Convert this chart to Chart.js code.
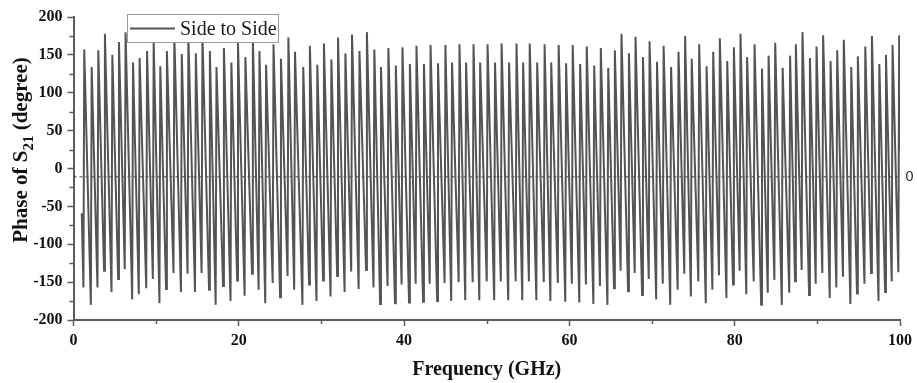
<!DOCTYPE html>
<html>
<head>
<meta charset="utf-8">
<script src="https://cdn.jsdelivr.net/npm/chart.js@4.4.1/dist/chart.umd.min.js"></script>
<style>
  html, body { margin: 0; padding: 0; background: #ffffff; }
  #wrap { width: 917px; height: 383px; }
</style>
</head>
<body>
<div id="wrap"><canvas id="c" width="917" height="383"></canvas></div>
<script>
// Wrapped phase of S21, side-to-side configuration (degrees vs GHz).
// Each period: the last sample before the wrap (trough) and the first after it (peak).
const startPoint = { f: 1.0, phase: -59 };
const endPoint = { f: 100.0, phase: 24 };

const troughFreq = [
  1.2, 2.1, 2.9, 3.7, 4.6, 5.4, 6.2, 7.1, 7.9, 8.8, 9.6, 10.4, 11.2, 12.1, 13.0, 13.8, 14.7, 15.5, 16.4, 17.2,
  18.1, 19.0, 19.8, 20.7, 21.6, 22.4, 23.2, 24.1, 25.0, 25.9, 26.7, 27.7, 28.5, 29.4, 30.2, 31.1, 31.9, 32.8, 33.6,
  34.5, 35.4, 36.3, 37.1, 38.0, 38.9, 39.7, 40.6, 41.4, 42.3, 43.1, 44.0, 44.9, 45.7, 46.6, 47.4, 48.3, 49.1, 50.0,
  50.9, 51.7, 52.6, 53.5, 54.3, 55.1, 56.0, 56.9, 57.7, 58.6, 59.5, 60.3, 61.2, 62.0, 62.9, 63.7, 64.6, 65.4, 66.2, 67.1,
  67.9, 68.8, 69.6, 70.5, 71.3, 72.2, 73.1, 73.9, 74.7, 75.6, 76.5, 77.3, 78.1, 79.0, 79.8, 80.6, 81.4, 82.3, 83.2,
  84.0, 84.8, 85.7, 86.6, 87.3, 88.1, 89.0, 89.8, 90.6, 91.5, 92.3, 93.1, 94.0, 94.8, 95.7, 96.5, 97.4, 98.2, 99.0, 99.8
];
const troughPhase = [
  -157, -180, -157, -135, -163, -146, -133, -173, -166, -158, -146, -178, -159, -138, -163, -139, -163, -138, -160, -180,
  -155, -175, -148, -168, -139, -160, -178, -151, -170, -142, -160, -180, -153, -175, -148, -169, -142, -163, -136,
  -159, -134, -157, -179, -155, -178, -153, -177, -152, -176, -152, -175, -151, -175, -150, -174, -150, -174, -149,
  -174, -149, -174, -149, -174, -149, -174, -150, -175, -151, -176, -152, -177, -153, -179, -155, -180, -158, -135, -162,
  -138, -167, -146, -173, -152, -180, -160, -139, -169, -149, -178, -160, -141, -171, -153, -135, -166, -149, -180,
  -164, -147, -180, -164, -149, -134, -167, -152, -138, -171, -157, -143, -179, -165, -152, -138, -175, -163, -149, -137
];
const peakFreq = [
  1.3, 2.2, 3.0, 3.8, 4.7, 5.5, 6.3, 7.2, 8.0, 8.9, 9.7, 10.5, 11.3, 12.2, 13.1, 13.9, 14.8, 15.6, 16.5, 17.3,
  18.2, 19.1, 19.9, 20.8, 21.7, 22.5, 23.3, 24.2, 25.1, 26.0, 26.8, 27.8, 28.6, 29.5, 30.3, 31.2, 32.0, 32.9, 33.7,
  34.6, 35.5, 36.4, 37.2, 38.1, 39.0, 39.8, 40.7, 41.5, 42.4, 43.2, 44.1, 45.0, 45.8, 46.7, 47.5, 48.4, 49.2, 50.1,
  51.0, 51.8, 52.7, 53.6, 54.4, 55.2, 56.1, 57.0, 57.8, 58.7, 59.6, 60.4, 61.3, 62.1, 63.0, 63.8, 64.7, 65.5, 66.3, 67.2,
  68.0, 68.9, 69.7, 70.6, 71.4, 72.3, 73.2, 74.0, 74.8, 75.7, 76.6, 77.4, 78.2, 79.1, 79.9, 80.7, 81.5, 82.4, 83.3,
  84.1, 84.9, 85.8, 86.7, 87.4, 88.2, 89.1, 89.9, 90.7, 91.6, 92.4, 93.2, 94.1, 94.9, 95.8, 96.6, 97.5, 98.3, 99.1, 99.9
];
const peakPhase = [
  157, 134, 156, 178, 150, 167, 180, 140, 146, 155, 168, 135, 155, 176, 151, 175, 152, 176, 155, 134,
  159, 140, 166, 147, 175, 155, 137, 164, 145, 173, 154, 134, 162, 137, 165, 144, 173, 152, 177,
  155, 180, 157, 134, 159, 136, 160, 138, 162, 138, 163, 139, 163, 140, 164, 140, 164, 140, 164,
  140, 165, 140, 165, 140, 165, 140, 164, 140, 163, 139, 163, 138, 161, 136, 159, 133, 156, 178, 152,
  174, 147, 168, 141, 162, 134, 154, 175, 145, 164, 135, 154, 172, 142, 160, 178, 147, 164, 132,
  149, 166, 133, 149, 164, 180, 146, 161, 176, 142, 156, 170, 134, 148, 161, 175, 138, 150, 163, 176
];

// Horizontal dashed reference line and its right-hand label
const refLevel = -11;
const refLabel = '0';

const seriesName = 'Side to Side';
const xTitle = 'Frequency (GHz)';
const yTitleMain = 'Phase of S';
const yTitleSub = '21';
const yTitleTail = ' (degree)';

const xMajor = [0, 20, 40, 60, 80, 100];
const xMinor = [10, 30, 50, 70, 90];
const yMinor = [-175, -125, -75, -25, 25, 75, 125, 175];

const LINE = '#545454';
const AXIS = '#5a5a5a';
const SERIF = '"Liberation Serif", "Times New Roman", serif';

// Interleave trough/peak samples into one polyline
const points = [{ x: startPoint.f, y: startPoint.phase }];
for (let i = 0; i < peakFreq.length; i++) {
  points.push({ x: troughFreq[i], y: troughPhase[i] });
  points.push({ x: peakFreq[i], y: peakPhase[i] });
}
points.push({ x: endPoint.f, y: endPoint.phase });

const decor = {
  id: 'decor',
  afterDatasetsDraw(chart) {
    const { ctx, chartArea: a, scales: { x, y } } = chart;
    ctx.save();
    // legend box (drawn over the trace)
    const lx = 127, ly = 14, lw = 152, lh = 29;
    ctx.fillStyle = '#ffffff';
    ctx.fillRect(lx, ly, lw, lh);
    ctx.strokeStyle = '#9a9a9a';
    ctx.lineWidth = 1;
    ctx.strokeRect(lx + 0.5, ly + 0.5, lw - 1, lh - 1);
    ctx.strokeStyle = LINE;
    ctx.lineWidth = 2;
    ctx.beginPath();
    ctx.moveTo(lx + 3, ly + 14.5);
    ctx.lineTo(lx + 48, ly + 14.5);
    ctx.stroke();
    ctx.fillStyle = '#1a1a1a';
    ctx.font = '20px ' + SERIF;
    ctx.textBaseline = 'alphabetic';
    ctx.textAlign = 'left';
    ctx.fillText(seriesName, lx + 53, ly + 21);

    // label of the dashed reference line
    ctx.fillStyle = '#333333';
    ctx.font = '14px "DejaVu Sans", sans-serif';
    ctx.textBaseline = 'middle';
    ctx.fillText(refLabel, a.right + 5, y.getPixelForValue(refLevel) + 1);
    ctx.restore();
  },
  afterDraw(chart) {
    const { ctx, chartArea: a, scales: { x, y } } = chart;
    ctx.save();
    // minor ticks
    ctx.strokeStyle = AXIS;
    ctx.lineWidth = 1.5;
    ctx.beginPath();
    xMinor.forEach(v => {
      const px = Math.round(x.getPixelForValue(v)) + 0.5;
      ctx.moveTo(px, a.bottom);
      ctx.lineTo(px, a.bottom + 4);
    });
    yMinor.forEach(v => {
      const py = Math.round(y.getPixelForValue(v)) + 0.5;
      ctx.moveTo(a.left, py);
      ctx.lineTo(a.left - 4, py);
    });
    ctx.stroke();

    // axis titles
    ctx.fillStyle = '#111111';
    ctx.font = 'bold 20px ' + SERIF;
    ctx.textAlign = 'center';
    ctx.textBaseline = 'alphabetic';
    ctx.fillText(xTitle, (a.left + a.right) / 2, 375);

    ctx.translate(27, 150);
    ctx.rotate(-Math.PI / 2);
    const big = 'bold 21px ' + SERIF, small = 'bold 15px ' + SERIF;
    ctx.font = big;
    const w1 = ctx.measureText(yTitleMain).width;
    const w3 = ctx.measureText(yTitleTail).width;
    ctx.font = small;
    const w2 = ctx.measureText(yTitleSub).width;
    let sx = -(w1 + w2 + w3) / 2;
    ctx.textAlign = 'left';
    ctx.font = big;
    ctx.fillText(yTitleMain, sx, 0);
    sx += w1;
    ctx.font = small;
    ctx.fillText(yTitleSub, sx, 6);
    sx += w2;
    ctx.font = big;
    ctx.fillText(yTitleTail, sx, 0);
    ctx.restore();
  }
};

new Chart(document.getElementById('c'), {
  type: 'line',
  data: {
    datasets: [
      {
        label: seriesName,
        data: points,
        borderColor: LINE,
        borderWidth: 2,
        pointRadius: 0,
        tension: 0,
        fill: false
      },
      {
        label: 'ref',
        data: [{ x: 0, y: refLevel }, { x: 100, y: refLevel }],
        borderColor: '#3a3a3a',
        borderWidth: 1,
        borderDash: [3, 3],
        pointRadius: 0,
        fill: false
      }
    ]
  },
  options: {
    responsive: false,
    animation: false,
    events: [],
    layout: { padding: { top: 17, right: 15.5, left: 0, bottom: 0 } },
    plugins: { legend: { display: false }, tooltip: { enabled: false }, title: { display: false } },
    scales: {
      x: {
        type: 'linear',
        min: 0, max: 100,
        afterBuildTicks(s) { s.ticks = xMajor.map(v => ({ value: v })); },
        afterFit(s) { s.height = 63; },
        grid: { drawOnChartArea: false, drawTicks: true, tickLength: 6, tickColor: AXIS, tickWidth: 1.5 },
        border: { display: true, color: AXIS, width: 2 },
        ticks: { color: '#111111', font: { family: SERIF, size: 16, weight: 'bold' }, padding: 5, maxRotation: 0 }
      },
      y: {
        type: 'linear',
        min: -200, max: 200,
        ticks: { stepSize: 50, color: '#111111', font: { family: SERIF, size: 16, weight: 'bold' }, padding: 5 },
        afterFit(s) { s.width = 73.5; },
        grid: { drawOnChartArea: false, drawTicks: true, tickLength: 6, tickColor: AXIS, tickWidth: 1.5 },
        border: { display: true, color: AXIS, width: 2 }
      }
    }
  },
  plugins: [decor]
});
</script>
</body>
</html>
